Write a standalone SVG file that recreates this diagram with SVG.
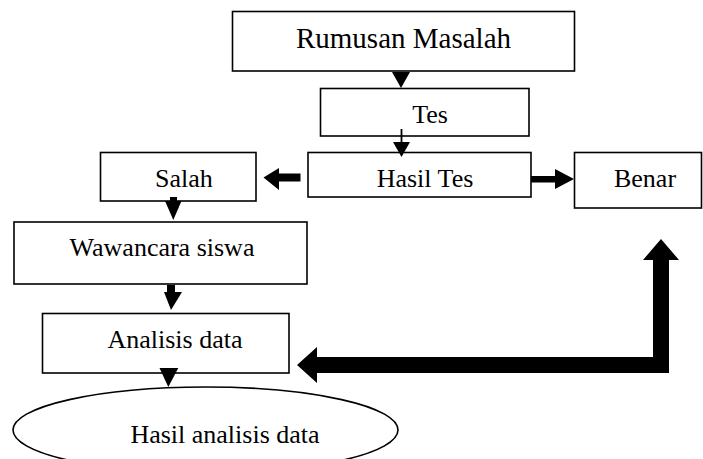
<svg xmlns="http://www.w3.org/2000/svg" width="703" height="459" viewBox="0 0 703 459">
<style>
.box{fill:#fff;stroke:#000;stroke-width:1.6}
.t{font-family:"Liberation Serif","Times New Roman",serif;font-size:26px;fill:#000;text-anchor:middle}
.big{font-size:29px}
.ah{fill:#000;stroke:none}
</style>
<rect width="703" height="459" fill="#fff"/>
<g id="rumusan"><rect class="box" x="232.5" y="11.5" width="342" height="59.5"/><text class="t big" x="403.5" y="48">Rumusan Masalah</text></g>
<g id="tes"><rect class="box" x="320.5" y="88.5" width="208.5" height="47.5"/><text class="t" x="430" y="123">Tes</text></g>
<g id="hasiltes"><rect class="box" x="308" y="152.5" width="223" height="44.5"/><text class="t" x="425" y="187">Hasil Tes</text></g>
<g id="salah"><rect class="box" x="100.5" y="152.5" width="155.5" height="48.5"/><text class="t" x="184" y="187">Salah</text></g>
<g id="benar"><rect class="box" x="574.5" y="152.5" width="127" height="55.5"/><text class="t" x="645" y="187">Benar</text></g>
<g id="wawancara"><rect class="box" x="14" y="222" width="293" height="62"/><text class="t" x="162" y="256">Wawancara siswa</text></g>
<g id="analisis"><rect class="box" x="42.5" y="313.5" width="246.5" height="59.5"/><text class="t" x="175" y="348">Analisis data</text></g>
<g id="hasilanalisis"><ellipse class="box" cx="205.5" cy="430" rx="192.5" ry="43"/><text class="t" x="225" y="443">Hasil analisis data</text></g>
<g id="connectors">
<polygon class="ah" points="392,72 410,72 401,88"/>
<line x1="401.5" y1="129" x2="401.5" y2="144" stroke="#000" stroke-width="1.8"/>
<polygon class="ah" points="393,142 410,142 401.5,157"/>
<polygon class="ah" points="300.5,173.5 279,173.5 279,168 263.5,177.5 279,190 279,181.5 300.5,181.5"/>
<polygon class="ah" points="531,176 555,176 555,169 574,179 555,189 555,182.5 531,182.5"/>
<rect class="ah" x="170" y="197" width="7" height="5"/>
<polygon class="ah" points="165,201 181.5,201 173.3,220"/>
<rect class="ah" x="167" y="285" width="8" height="8"/>
<polygon class="ah" points="164,292 182,292 171,310"/>
<polygon class="ah" points="159.5,368 178.3,368 168.3,387"/>
<polygon class="ah" points="297,365 317,347 317,357 653,357 653,260 643,260 661,239 679,260 669,260 669,373 317,373 317,383"/>
</g>
</svg>
